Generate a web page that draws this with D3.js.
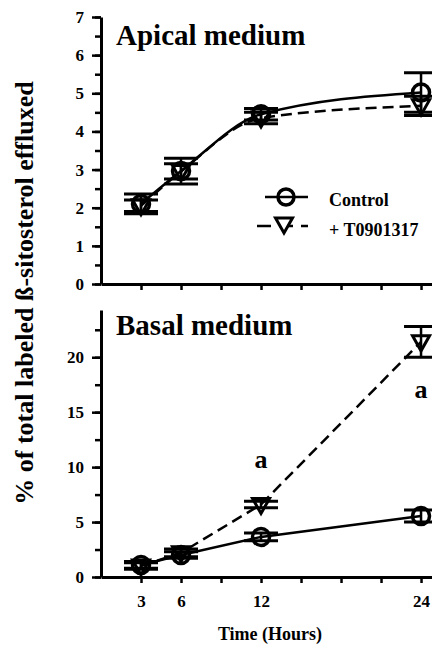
<!DOCTYPE html>
<html>
<head>
<meta charset="utf-8">
<script src="https://cdn.jsdelivr.net/npm/d3@7"></script>
<style>
body { margin: 0; background: #fff; }
svg { display: block; }
</style>
</head>
<body>
<svg class="chart"></svg>
<script>
var hours = [3, 6, 12, 24];
var xTicks = [3, 6, 9, 12, 15, 18, 21, 24];
var xLabels = [3, 6, 12, 24];

var apicalControl = [2.1, 2.96, 4.45, 5.02];
var apicalControlErr = [0.26, 0.34, 0.15, 0.52];
var apicalT09 = [2.05, 2.95, 4.35, 4.67];
var apicalT09Err = [0.15, 0.2, 0.15, 0.25];

var basalControl = [1.1, 2.0, 3.65, 5.55];
var basalControlErr = [0.3, 0.3, 0.36, 0.55];
var basalT09 = [1.0, 2.2, 6.6, 21.4];
var basalT09Err = [0.3, 0.35, 0.3, 1.4];

var apicalTicks = [0, 1, 2, 3, 4, 5, 6, 7];
var basalTicks = [0, 5, 10, 15, 20];
var seriesNames = ["Control", "+ T0901317"];

var width = 432, height = 645;
var serif = "'Liberation Serif', 'Times New Roman', Times, 'DejaVu Serif', serif";

var svg = d3.select(".chart")
	.attr("width", width)
	.attr("height", height);

var x = d3.scaleLinear()
	.domain([0, 24.8])
	.range([101, 431.7]);

var yTop = d3.scaleLinear().domain([0, 7]).range([284, 17]);
var yBot = d3.scaleLinear().domain([0, 24.3]).range([577, 310]);

function label(sel, size) {
	return sel.attr("font-family", serif)
		.attr("font-weight", "bold")
		.attr("font-size", size)
		.attr("fill", "#000");
}

function drawPanel(y, majors, minorStep, title, titleY, ctrl, ctrlErr, trt, trtErr, curve, showX) {
	var g = svg.append("g");

	// minor y ticks
	var minors = d3.range(0, y.domain()[1] + 0.001, minorStep);
	g.append("g")
		.attr("transform", "translate(101,0)")
		.call(d3.axisLeft(y).tickValues(minors).tickSize(6).tickFormat(""))
		.call(s => s.select(".domain").remove())
		.call(s => s.selectAll("line").attr("stroke-width", 2.5));

	var ya = g.append("g")
		.attr("transform", "translate(101,0)")
		.call(d3.axisLeft(y).tickValues(majors).tickSize(9).tickSizeOuter(0).tickPadding(8)
			.tickFormat(d3.format("d")));
	ya.select(".domain").attr("stroke-width", 3);
	ya.selectAll("line").attr("stroke-width", 2.5);
	ya.selectAll("text").call(label, 17);

	var xa = g.append("g")
		.attr("transform", "translate(0," + y(0) + ")")
		.call(d3.axisBottom(x).tickValues(xTicks).tickSize(6).tickSizeOuter(0).tickPadding(12)
			.tickFormat(d => showX && xLabels.indexOf(d) >= 0 ? d : ""));
	xa.select(".domain").attr("stroke-width", 3);
	xa.selectAll("line").attr("stroke-width", 2.5);
	xa.selectAll("text").call(label, 17);

	g.append("text")
		.attr("x", 116)
		.attr("y", titleY)
		.call(label, 29)
		.text(title);

	var line = d3.line()
		.x((d, i) => x(hours[i]))
		.y(d => y(d))
		.curve(curve);

	g.append("path")
		.attr("d", line(trt))
		.attr("fill", "none")
		.attr("stroke", "#000")
		.attr("stroke-width", 2.5)
		.attr("stroke-dasharray", "11,6");

	g.append("path")
		.attr("d", line(ctrl))
		.attr("fill", "none")
		.attr("stroke", "#000")
		.attr("stroke-width", 2.5);

	function errBars(vals, errs) {
		hours.forEach(function(h, i) {
			var cx = x(h);
			var hi = y(vals[i] + errs[i]), lo = y(vals[i] - errs[i]);
			g.append("line").attr("x1", cx).attr("x2", cx).attr("y1", hi).attr("y2", lo)
				.attr("stroke", "#000").attr("stroke-width", 2.5);
			[hi, lo].forEach(function(cy) {
				g.append("line").attr("x1", cx - 17).attr("x2", cx + 17).attr("y1", cy).attr("y2", cy)
					.attr("stroke", "#000").attr("stroke-width", 3);
			});
		});
	}
	errBars(trt, trtErr);
	errBars(ctrl, ctrlErr);

	hours.forEach(function(h, i) {
		g.append("path")
			.attr("d", triangle(x(h), y(trt[i])))
			.attr("fill", "none").attr("stroke", "#000").attr("stroke-width", 3);
		g.append("circle")
			.attr("cx", x(h)).attr("cy", y(ctrl[i])).attr("r", 8.5)
			.attr("fill", "none").attr("stroke", "#000").attr("stroke-width", 3.5);
	});
	return g;
}

function triangle(cx, cy) {
	return "M" + (cx - 8.5) + "," + (cy - 6) + "L" + (cx + 8.5) + "," + (cy - 6) + "L" + cx + "," + (cy + 9) + "Z";
}

drawPanel(yTop, apicalTicks, 0.5, "Apical medium", 45,
	apicalControl, apicalControlErr, apicalT09, apicalT09Err, d3.curveMonotoneX, false);
var bot = drawPanel(yBot, basalTicks, 2.5, "Basal medium", 335,
	basalControl, basalControlErr, basalT09, basalT09Err, d3.curveLinear, true);

// significance marks
[12, 24].forEach(function(h, i) {
	bot.append("text")
		.attr("x", x(h))
		.attr("y", yBot(basalT09[i + 2] + basalT09Err[i + 2]) + [-33, 72][i])
		.attr("text-anchor", "middle")
		.call(label, 26)
		.text("a");
});

// legend
var legend = svg.append("g");
legend.append("line").attr("x1", 265).attr("x2", 308).attr("y1", 197).attr("y2", 197)
	.attr("stroke", "#000").attr("stroke-width", 2.5);
legend.append("circle").attr("cx", 286).attr("cy", 197).attr("r", 8)
	.attr("fill", "none").attr("stroke", "#000").attr("stroke-width", 3.5);
legend.append("line").attr("x1", 257).attr("x2", 308).attr("y1", 226).attr("y2", 226)
	.attr("stroke", "#000").attr("stroke-width", 2.5).attr("stroke-dasharray", "14,8");
legend.append("path").attr("d", triangle(284, 224))
	.attr("fill", "#fff").attr("stroke", "#000").attr("stroke-width", 3);
legend.selectAll(".lab")
	.data(seriesNames)
	.enter()
	.append("text")
	.attr("x", 329)
	.attr("y", (d, i) => 206 + i * 30)
	.call(label, 18)
	.text(d => d);

svg.append("text")
	.attr("transform", "translate(33,293) rotate(-90)")
	.attr("text-anchor", "middle")
	.call(label, 26)
	.text("% of total labeled ß-sitosterol effluxed");

svg.append("text")
	.attr("x", 270)
	.attr("y", 640)
	.attr("text-anchor", "middle")
	.call(label, 18)
	.text("Time (Hours)");
</script>
</body>
</html>
